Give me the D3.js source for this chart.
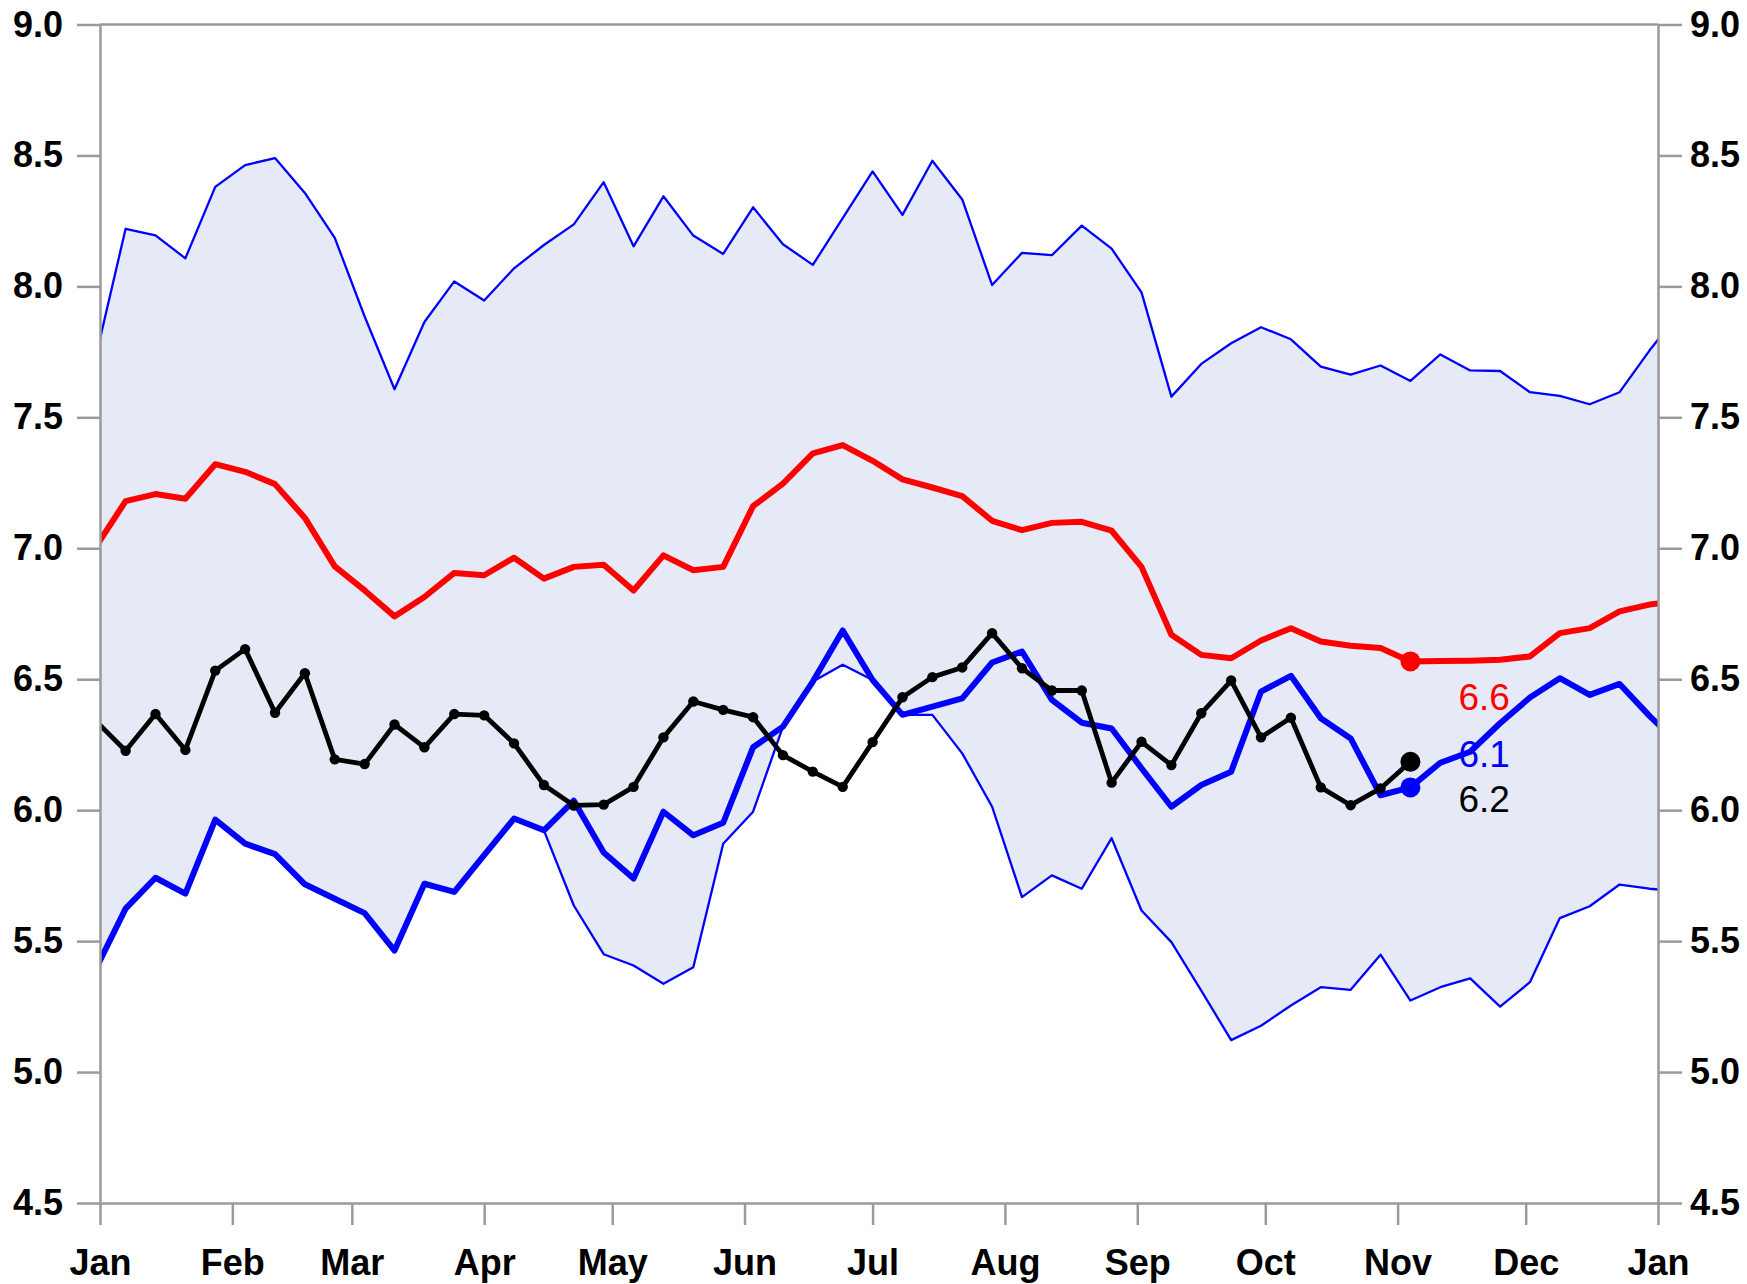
<!DOCTYPE html>
<html>
<head>
<meta charset="utf-8">
<script src="https://cdn.jsdelivr.net/npm/d3@7"></script>
<style>
body{margin:0;background:#fff;}
.axisG text{font-family:"Liberation Sans",Arial,sans-serif;font-weight:bold;font-size:36px;fill:#000;}
.axisG line,.axisG path{stroke:#9a9a9a;stroke-width:2.5;}
.endLabel{font-family:"Liberation Sans",Arial,sans-serif;font-size:37px;}
</style>
</head>
<body>
<div id="chart"></div>
<script>
// weekly points, first one just before Jan 1 (clipped at the axis)
var firstWeek = "2022-12-31";
var yTicks = [4.5, 5.0, 5.5, 6.0, 6.5, 7.0, 7.5, 8.0, 8.5, 9.0];

// band top
var maxVals = [7.73, 8.22, 8.195, 8.107, 8.38, 8.463, 8.49, 8.357, 8.185, 7.885,
	7.607, 7.864, 8.019, 7.946, 8.069, 8.158, 8.237, 8.398, 8.153, 8.344,
	8.194, 8.124, 8.302, 8.161, 8.082, 8.261, 8.439, 8.273, 8.48, 8.332,
	8.005, 8.128, 8.119, 8.232, 8.144, 7.977, 7.579, 7.704, 7.783, 7.844,
	7.798, 7.694, 7.663, 7.698, 7.639, 7.74, 7.679, 7.677, 7.596, 7.582,
	7.55, 7.596, 7.755, 7.90];
// band bottom
var minVals = [5.393, 5.624, 5.742, 5.681, 5.964, 5.872, 5.832, 5.717, 5.662, 5.607,
	5.464, 5.719, 5.688, 5.828, 5.968, 5.923, 5.636, 5.45, 5.407, 5.337,
	5.40, 5.872, 5.994, 6.319, 6.491, 6.555, 6.497, 6.364, 6.364, 6.217,
	6.013, 5.668, 5.751, 5.70, 5.893, 5.617, 5.496, 5.311, 5.122, 5.177,
	5.254, 5.324, 5.314, 5.448, 5.273, 5.324, 5.358, 5.25, 5.343, 5.588,
	5.633, 5.716, 5.70, 5.69];
// red
var meanVals = [7.005, 7.18, 7.207, 7.189, 7.321, 7.292, 7.245, 7.116, 6.931, 6.839,
	6.74, 6.814, 6.906, 6.897, 6.964, 6.884, 6.929, 6.937, 6.839, 6.973,
	6.916, 6.929, 7.161, 7.247, 7.362, 7.394, 7.334, 7.263, 7.232, 7.199,
	7.105, 7.069, 7.097, 7.101, 7.067, 6.929, 6.67, 6.593, 6.58, 6.648,
	6.695, 6.644, 6.628, 6.619, 6.568, 6.57, 6.571, 6.574, 6.587, 6.676,
	6.695, 6.759, 6.785, 6.80];
// thick blue
var lastYearVals = [5.393, 5.624, 5.742, 5.681, 5.964, 5.872, 5.832, 5.717, 5.662, 5.607,
	5.464, 5.719, 5.688, 5.828, 5.968, 5.923, 6.036, 5.838, 5.739, 5.994,
	5.904, 5.952, 6.24, 6.319, 6.491, 6.686, 6.497, 6.364, 6.395, 6.427,
	6.564, 6.606, 6.421, 6.334, 6.312, 6.16, 6.013, 6.096, 6.147, 6.453,
	6.513, 6.351, 6.274, 6.057, 6.087, 6.181, 6.223, 6.332, 6.43, 6.504,
	6.44, 6.482, 6.36, 6.25];
// black, current year so far
var thisYearVals = [6.341, 6.227, 6.367, 6.23, 6.533, 6.615, 6.372, 6.523, 6.194, 6.176,
	6.327, 6.24, 6.367, 6.362, 6.255, 6.096, 6.018, 6.021, 6.089, 6.278,
	6.415, 6.383, 6.355, 6.21, 6.147, 6.089, 6.26, 6.431, 6.508, 6.545,
	6.676, 6.542, 6.457, 6.457, 6.105, 6.261, 6.172, 6.37, 6.495, 6.278,
	6.353, 6.087, 6.019, 6.083, 6.185];

drawChart("chart");

function drawChart(divIdStr){
	var margin = {top: 24.5, right: 89, bottom: 81, left: 100};
	var width = 1747 - margin.left - margin.right;
	var height = 1284 - margin.top - margin.bottom;

	var start = d3.timeParse("%Y-%m-%d")(firstWeek);
	var weeks = maxVals.map(function(d, i){ return d3.timeDay.offset(start, 7 * i); });
	var markIdx = thisYearVals.length - 1;
	var markDate = weeks[markIdx];

	var x = d3.scaleTime().domain([new Date(2023, 0, 1), new Date(2024, 0, 1)]).range([0, width]);
	var y = d3.scaleLinear().domain([4.5, 9.0]).range([height, 0]);

	var svg = d3.select("#" + divIdStr).append("svg")
		.attr("width", 1747)
		.attr("height", 1284)
		.append("g")
		.attr("transform", "translate(" + margin.left + "," + margin.top + ")");

	svg.append("clipPath").attr("id", "plotClip")
		.append("rect").attr("x", 0).attr("y", 0).attr("width", width).attr("height", height);

	var plot = svg.append("g").attr("clip-path", "url(#plotClip)");

	function series(vals){
		return vals.map(function(v, i){ return {date: weeks[i], val: v}; });
	}
	var line = d3.line().x(function(d){ return x(d.date); }).y(function(d){ return y(d.val); });

	var band = maxVals.map(function(v, i){ return {date: weeks[i], hi: v, lo: minVals[i]}; });
	plot.append("path")
		.datum(band)
		.attr("fill", "#e6eaf7")
		.attr("d", d3.area().x(function(d){ return x(d.date); })
			.y0(function(d){ return y(d.lo); })
			.y1(function(d){ return y(d.hi); }));

	var lines = [
		{vals: maxVals, color: "#0000ff", w: 2.3},
		{vals: minVals, color: "#0000ff", w: 2.3},
		{vals: meanVals, color: "#ff0000", w: 6},
		{vals: lastYearVals, color: "#0000ff", w: 6},
		{vals: thisYearVals, color: "#000000", w: 4.8}
	];
	lines.forEach(function(s){
		plot.append("path")
			.datum(series(s.vals))
			.attr("fill", "none")
			.attr("stroke", s.color)
			.attr("stroke-width", s.w)
			.attr("stroke-linejoin", "round")
			.attr("d", line);
	});

	plot.append("g").selectAll("circle")
		.data(series(thisYearVals))
		.enter().append("circle")
		.attr("cx", function(d){ return x(d.date); })
		.attr("cy", function(d){ return y(d.val); })
		.attr("r", 5.2)
		.attr("fill", "#000");

	// end markers + labels
	var ends = [
		{vals: meanVals, color: "#ff0000", dy: 49},
		{vals: lastYearVals, color: "#0000ff", dy: -20},
		{vals: thisYearVals, color: "#000000", dy: 50}
	];
	ends.forEach(function(e){
		var v = e.vals[markIdx];
		svg.append("circle")
			.attr("cx", x(markDate)).attr("cy", y(v)).attr("r", 10)
			.attr("fill", e.color);
	});
	ends.forEach(function(e){
		var v = e.vals[markIdx];
		svg.append("text")
			.attr("class", "endLabel")
			.attr("x", x(markDate) + 48)
			.attr("y", y(v) + e.dy)
			.attr("fill", e.color)
			.text(d3.format(".1f")(v));
	});

	// frame + axes
	svg.append("line")
		.attr("x1", 0).attr("x2", width).attr("y1", 0).attr("y2", 0)
		.attr("stroke", "#9a9a9a").attr("stroke-width", 2.5);

	svg.append("g")
		.attr("class", "axisG")
		.call(d3.axisLeft(y).tickValues(yTicks).tickFormat(d3.format(".1f")).tickSize(23).tickSizeOuter(0).tickPadding(14));

	svg.append("g")
		.attr("class", "axisG")
		.attr("transform", "translate(" + width + ",0)")
		.call(d3.axisRight(y).tickValues(yTicks).tickFormat(d3.format(".1f")).tickSize(24).tickSizeOuter(0).tickPadding(8));

	svg.append("g")
		.attr("class", "axisG")
		.attr("transform", "translate(0," + height + ")")
		.call(d3.axisBottom(x).ticks(d3.timeMonth.every(1)).tickFormat(d3.timeFormat("%b")).tickSize(22).tickSizeOuter(0).tickPadding(24));
}
</script>
</body>
</html>
